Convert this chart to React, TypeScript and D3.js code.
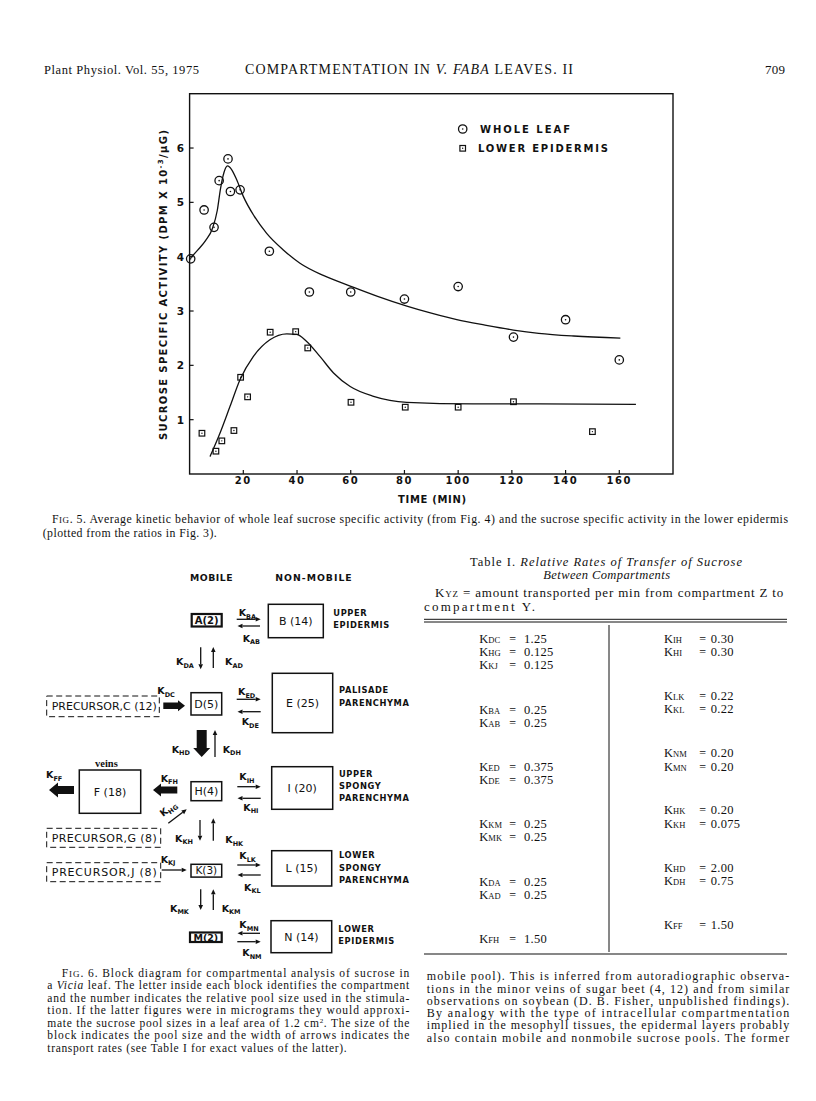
import React from "react";
import * as d3 from "d3";

// Fig. 5 — measured points
const wholeLeafTime = [0.4, 5.4, 9.1, 11.0, 14.3, 15.2, 18.8, 29.7, 44.6, 60, 80, 100, 120.6, 140, 160];
const wholeLeafActivity = [3.96, 4.86, 4.54, 5.4, 5.8, 5.2, 5.23, 4.1, 3.35, 3.35, 3.22, 3.45, 2.52, 2.84, 2.1];
const epidermisTime = [4.6, 9.8, 12.0, 16.5, 19.0, 21.6, 30, 39.5, 44, 60.1, 80.3, 100, 120.6, 150];
const epidermisActivity = [0.75, 0.42, 0.61, 0.8, 1.78, 1.42, 2.61, 2.62, 2.32, 1.32, 1.23, 1.23, 1.33, 0.78];

// fitted curves
const wholeFitTime = [0.4, 3, 6, 8.5, 10.3, 11.5, 12.8, 14.1, 15.7, 17.5, 20, 24, 28.7, 35, 41.1, 50, 59.8, 70, 80.9, 90, 99.5, 110, 120.6, 130, 143, 160.4];
const wholeFitActivity = [3.98, 4.12, 4.3, 4.52, 4.85, 5.25, 5.55, 5.67, 5.6, 5.42, 5.11, 4.75, 4.43, 4.12, 3.88, 3.65, 3.46, 3.27, 3.09, 2.96, 2.84, 2.74, 2.65, 2.59, 2.54, 2.5];
const epiFitTime = [7.6, 11.3, 15.1, 18.8, 23.7, 29.9, 36.2, 39.9, 43.6, 48.6, 53.6, 59.8, 68.5, 80.9, 105.7, 130.5, 166.2];
const epiFitActivity = [0.32, 0.75, 1.25, 1.74, 2.16, 2.47, 2.58, 2.57, 2.44, 2.16, 1.86, 1.61, 1.43, 1.32, 1.29, 1.29, 1.28];

const xTicks = [20, 40, 60, 80, 100, 120, 140, 160];
const yTicks = [1, 2, 3, 4, 5, 6];

// Table I
const leftRates = [
  [["DC", "1.25"], ["HG", "0.125"], ["KJ", "0.125"]],
  [["BA", "0.25"], ["AB", "0.25"]],
  [["ED", "0.375"], ["DE", "0.375"]],
  [["KM", "0.25"], ["MK", "0.25"]],
  [["DA", "0.25"], ["AD", "0.25"]],
  [["FH", "1.50"]],
];
const rightRates = [
  [["IH", "0.30"], ["HI", "0.30"]],
  [["LK", "0.22"], ["KL", "0.22"]],
  [["NM", "0.20"], ["MN", "0.20"]],
  [["HK", "0.20"], ["KH", "0.075"]],
  [["HD", "2.00"], ["DH", "0.75"]],
  [["FF", "1.50"]],
];

const x = d3.scaleLinear().domain([0, 180]).range([189.6, 673]);
const y = d3.scaleLinear().domain([0, 7]).range([474, 93.7]);

const line = d3
  .line<[number, number]>()
  .x((d) => x(d[0]))
  .y((d) => y(d[1]))
  .curve(d3.curveMonotoneX);

const SERIF = "'Liberation Serif', 'Times New Roman', serif";
const SANS = "'DejaVu Sans', sans-serif";

function Line({ x, y, len, size = 11, children, style }: any) {
  return (
    <text x={x} y={y} textLength={len} lengthAdjust="spacing" fontSize={size} fontFamily={SERIF} style={style}>
      {children}
    </text>
  );
}

function thin(x1: number, y1: number, x2: number, y2: number) {
  const L = Math.hypot(x2 - x1, y2 - y1);
  const ux = (x2 - x1) / L, uy = (y2 - y1) / L;
  const hl = 5, hw = 2.3;
  const bx = x2 - ux * hl, by = y2 - uy * hl;
  return (
    <g>
      <line x1={x1} y1={y1} x2={bx} y2={by} stroke="#111" strokeWidth={1.3} />
      <path d={`M${x2},${y2}L${bx - uy * hw},${by + ux * hw}L${bx + uy * hw},${by - ux * hw}Z`} fill="#111" />
    </g>
  );
}

function fat(x1: number, y1: number, x2: number, y2: number, w: number, hw: number, hl: number) {
  const L = Math.hypot(x2 - x1, y2 - y1);
  const ux = (x2 - x1) / L, uy = (y2 - y1) / L;
  const px = -uy, py = ux;
  const bx = x2 - ux * hl, by = y2 - uy * hl;
  const pts = [
    [x1 + (px * w) / 2, y1 + (py * w) / 2],
    [bx + (px * w) / 2, by + (py * w) / 2],
    [bx + (px * hw) / 2, by + (py * hw) / 2],
    [x2, y2],
    [bx - (px * hw) / 2, by - (py * hw) / 2],
    [bx - (px * w) / 2, by - (py * w) / 2],
    [x1 - (px * w) / 2, y1 - (py * w) / 2],
  ];
  return <path d={"M" + pts.map((p) => p.join(",")).join("L") + "Z"} fill="#111" />;
}

function K({ x, y, sub, rot }: any) {
  return (
    <text x={x} y={y} fontFamily={SANS} fontWeight="bold" fontSize={9.5} fill="#111"
      transform={rot ? `rotate(${rot},${x},${y})` : undefined}>
      K<tspan fontSize={6.5} dy={2.5}>{sub}</tspan>
    </text>
  );
}

function Box({ x, y, w, h, label, sw = 1.5, size = 11, bold = false }: any) {
  return (
    <g>
      <rect x={x} y={y} width={w} height={h} fill="none" stroke="#111" strokeWidth={sw} />
      <text x={x + w / 2} y={y + h / 2 + size * 0.36} textAnchor="middle" fontFamily={SANS}
        fontSize={size} fontWeight={bold ? "bold" : "normal"} fill="#111">{label}</text>
    </g>
  );
}

function Side({ x, y, lines }: any) {
  return (
    <g>
      {lines.map((t: string, i: number) => (
        <text key={i} x={x} y={y + i * 12.3} fontFamily={SANS} fontWeight="bold" fontSize={8.3} letterSpacing={0.6} fill="#111">{t}</text>
      ))}
    </g>
  );
}

function Precursor({ x, y, w, h, label }: any) {
  return (
    <g>
      <rect x={x} y={y} width={w} height={h} fill="none" stroke="#111" strokeWidth={1} strokeDasharray="6,3.5" />
      <text x={x + 5} y={y + h / 2 + 4} textLength={105} lengthAdjust="spacing" fontFamily={SANS} fontSize={11} fill="#111">{label}</text>
    </g>
  );
}

function Circle({ cx, cy }: any) {
  return (
    <g>
      <circle cx={cx} cy={cy} r={4.2} fill="none" stroke="#111" strokeWidth={1.3} />
      <circle cx={cx} cy={cy} r={0.8} fill="#111" />
    </g>
  );
}
function Square({ cx, cy }: any) {
  return (
    <g>
      <rect x={cx - 2.8} y={cy - 2.8} width={5.6} height={5.6} fill="none" stroke="#111" strokeWidth={1.2} />
      <circle cx={cx} cy={cy} r={0.7} fill="#111" />
    </g>
  );
}

function RateColumn({ groups, kx, eqx, vx, top, pitch, row, shift }: any) {
  const out: any[] = [];
  groups.forEach((g: string[][], gi: number) => {
    g.forEach(([sub, v], ri) => {
      const yy = top + gi * pitch + ri * row + (gi > 0 ? shift : 0);
      out.push(
        <g key={sub}>
          <text x={kx} y={yy} fontFamily={SERIF} fontSize={12.5}>
            K<tspan fontSize={8.5}>{sub}</tspan>
          </text>
          <text x={eqx} y={yy} fontFamily={SERIF} fontSize={12}>=</text>
          <text x={vx} y={yy} fontFamily={SERIF} fontSize={12.5} letterSpacing={0.3}>{v}</text>
        </g>
      );
    });
  });
  return <g>{out}</g>;
}

export default function App() {
  const whole = d3.zip(wholeLeafTime, wholeLeafActivity) as [number, number][];
  const epi = d3.zip(epidermisTime, epidermisActivity) as [number, number][];
  const wholeFit = d3.zip(wholeFitTime, wholeFitActivity) as [number, number][];
  const epiFit = d3.zip(epiFitTime, epiFitActivity) as [number, number][];

  return (
    <svg width={816} height={1101} viewBox="0 0 816 1101"
      style={{ position: "absolute", left: 0, top: 0, background: "#fff" }} fill="#111">
      {/* running head */}
      <Line x={44} y={74} len={155} size={12.5}>Plant Physiol. Vol. 55, 1975</Line>
      <Line x={245} y={74} len={328} size={14}>
        COMPARTMENTATION IN <tspan fontStyle="italic">V. FABA</tspan> LEAVES.  II
      </Line>
      <Line x={765} y={74} len={20} size={13}>709</Line>

      {/* Fig. 5 chart */}
      <rect x={x(0)} y={y(7)} width={x(180) - x(0)} height={y(0) - y(7)} fill="none" stroke="#111" strokeWidth={1.4} />
      {xTicks.map((t) => (
        <g key={t}>
          <line x1={x(t)} x2={x(t)} y1={y(0)} y2={y(0) - 4} stroke="#111" strokeWidth={1.2} />
          <text x={x(t)} y={484} textAnchor="middle" fontFamily={SANS} fontWeight="bold" fontSize={10} letterSpacing={1.5}>{t}</text>
        </g>
      ))}
      {yTicks.map((t) => (
        <g key={t}>
          <line x1={x(0)} x2={x(0) + 4} y1={y(t)} y2={y(t)} stroke="#111" strokeWidth={1.2} />
          <text x={184} y={y(t) + 4} textAnchor="end" fontFamily={SANS} fontWeight="bold" fontSize={10.5}>{t}</text>
        </g>
      ))}
      <text x={398} y={502.7} textLength={68} lengthAdjust="spacing" fontFamily={SANS} fontWeight="bold" fontSize={10}>TIME (MIN)</text>
      <text transform="translate(167,440) rotate(-90)" x={0} y={0} textLength={310} lengthAdjust="spacing"
        fontFamily={SANS} fontWeight="bold" fontSize={10}>
        SUCROSE  SPECIFIC  ACTIVITY  (DPM  X  10<tspan dy={-4} fontSize={7}>-3</tspan><tspan dy={4}>/µG)</tspan>
      </text>

      <path d={line(wholeFit) || ""} fill="none" stroke="#111" strokeWidth={1.3} />
      <path d={line(epiFit) || ""} fill="none" stroke="#111" strokeWidth={1.3} />
      {whole.map((d, i) => <Circle key={i} cx={x(d[0])} cy={y(d[1])} />)}
      {epi.map((d, i) => <Square key={i} cx={x(d[0])} cy={y(d[1])} />)}

      <Circle cx={462.7} cy={129} />
      <text x={480} y={133} textLength={90} lengthAdjust="spacing" fontFamily={SANS} fontWeight="bold" fontSize={10}>WHOLE  LEAF</text>
      <Square cx={462.7} cy={148.3} />
      <text x={478} y={152} textLength={130} lengthAdjust="spacing" fontFamily={SANS} fontWeight="bold" fontSize={10}>LOWER EPIDERMIS</text>

      {/* Fig. 5 caption */}
      <Line x={52} y={523.3} len={736} size={11.8}>
        F<tspan fontSize={9}>IG</tspan>. 5. Average kinetic behavior of whole leaf sucrose specific activity (from Fig. 4) and the sucrose specific activity in the lower epidermis
      </Line>
      <Line x={42.7} y={536.7} len={174} size={11.8}>(plotted from the ratios in Fig. 3).</Line>

      {/* Fig. 6 block diagram */}
      <text x={190} y={580.7} textLength={42.7} lengthAdjust="spacing" fontFamily={SANS} fontWeight="bold" fontSize={9.3}>MOBILE</text>
      <text x={275.3} y={580.7} textLength={76.4} lengthAdjust="spacing" fontFamily={SANS} fontWeight="bold" fontSize={9.3}>NON-MOBILE</text>

      <Box x={191.7} y={614} w={30} h={12.5} label="A(2)" sw={2.2} size={10} bold />
      <Box x={268.3} y={604.3} w={55} h={33.4} label="B (14)" />
      <Box x={191} y={692.7} w={30.7} h={22.3} label="D(5)" />
      <Box x={272.3} y={673.3} w={60.4} h={59.4} label="E (25)" />
      <Box x={79.3} y={770} w={61.4} h={43.3} label="F (18)" />
      <Box x={191} y={781.7} w={30.7} h={19} label="H(4)" />
      <Box x={271.7} y={766.7} w={61} h={42.6} label="I (20)" />
      <Box x={191} y={864.3} w={30.7} h={12.8} label="K(3)" size={10.5} />
      <Box x={271.7} y={850.7} w={60} h={35.3} label="L (15)" />
      <Box x={190} y={932.5} w={31.7} h={9.5} label="M(2)" sw={2.2} size={9.5} bold />
      <Box x={271} y={920.7} w={60.7} h={32} label="N (14)" />

      <Side x={333.3} y={615.7} lines={["UPPER", "EPIDERMIS"]} />
      <Side x={339} y={693.3} lines={["PALISADE", "PARENCHYMA"]} />
      <Side x={339} y={776.7} lines={["UPPER", "SPONGY", "PARENCHYMA"]} />
      <Side x={339} y={858.3} lines={["LOWER", "SPONGY", "PARENCHYMA"]} />
      <Side x={338.3} y={931.7} lines={["LOWER", "EPIDERMIS"]} />

      <Precursor x={46.7} y={696} w={112.6} h={20.7} label="PRECURSOR,C (12)" />
      <Precursor x={46.7} y={828.3} w={114} h={19} label="PRECURSOR,G (8)" />
      <Precursor x={46.7} y={862.7} w={114} h={19} label="PRECURSOR,J  (8)" />

      <text x={95} y={766.7} fontFamily={SERIF} fontWeight="bold" fontSize={10.5}>veins</text>

      {fat(163.3, 705.7, 185, 705.7, 6.5, 11, 7)}
      {fat(201.7, 730, 201.7, 757, 10, 17, 9)}
      {fat(74, 790, 49, 790, 8, 15, 9)}
      {fat(177.3, 790, 153, 790, 7, 13, 8)}

      {thin(236.7, 619.3, 260.7, 619.3)}
      {thin(260, 626, 237.5, 626)}
      {thin(200.7, 647.3, 200.7, 669.3)}
      {thin(213.3, 668, 213.3, 647)}
      {thin(236.7, 699.3, 260.7, 699.3)}
      {thin(260.7, 711.7, 237.5, 711.7)}
      {thin(215, 757, 215, 730)}
      {thin(237.3, 786.7, 260.7, 786.7)}
      {thin(260.7, 798.3, 237.5, 798.3)}
      {thin(168.3, 823.3, 186.7, 809.3)}
      {thin(200, 820, 200, 840.7)}
      {thin(213.3, 840.7, 213.3, 818.3)}
      {thin(161.7, 870, 186.7, 870)}
      {thin(237.3, 865, 260.7, 865)}
      {thin(260.7, 875, 237.5, 875)}
      {thin(200.7, 889.3, 200.7, 910)}
      {thin(213.3, 910, 213.3, 889.3)}
      {thin(260, 933.3, 237.5, 933.3)}
      {thin(237.3, 941.7, 260.7, 941.7)}

      <K x={238.7} y={616} sub="BA" />
      <K x={242.7} y={641.7} sub="AB" />
      <K x={176} y={665} sub="DA" />
      <K x={225} y={665} sub="AD" />
      <K x={157.3} y={694.3} sub="DC" />
      <K x={238} y={695} sub="ED" />
      <K x={241.7} y={725} sub="DE" />
      <K x={171.7} y={752.7} sub="HD" />
      <K x={222.7} y={752.7} sub="DH" />
      <K x={46} y={778.3} sub="FF" />
      <K x={160.7} y={781.7} sub="FH" />
      <K x={239.3} y={780} sub="IH" />
      <K x={243.3} y={810.7} sub="HI" />
      <K x={163} y={817} sub="HG" rot={-38} />
      <K x={175} y={841.7} sub="KH" />
      <K x={225.3} y={843.3} sub="HK" />
      <K x={160.7} y={862.7} sub="KJ" />
      <K x={239.3} y={859.3} sub="LK" />
      <K x={244} y={890.7} sub="KL" />
      <K x={170} y={911.7} sub="MK" />
      <K x={221.7} y={911.7} sub="KM" />
      <K x={239.3} y={928.3} sub="MN" />
      <K x={242.3} y={956} sub="NM" />

      {/* Fig. 6 caption */}
      <Line x={61.7} y={976.7} len={347.6} size={11.5}>F<tspan fontSize={9}>IG</tspan>. 6. Block diagram for compartmental analysis of sucrose in</Line>
      <Line x={47.3} y={989.3} len={362} size={11.5}>a <tspan fontStyle="italic">Vicia</tspan> leaf. The letter inside each block identifies the compartment</Line>
      <Line x={47.3} y={1001.7} len={362} size={11.5}>and the number indicates the relative pool size used in the stimula-</Line>
      <Line x={47.3} y={1014.3} len={362} size={11.5}>tion. If the latter figures were in micrograms they would approxi-</Line>
      <Line x={47.3} y={1026.7} len={362} size={11.5}>mate the sucrose pool sizes in a leaf area of 1.2 cm<tspan fontSize={7} dy={-4}>2</tspan><tspan dy={4}>. The size of the</tspan></Line>
      <Line x={47.3} y={1039.3} len={362} size={11.5}>block indicates the pool size and the width of arrows indicates the</Line>
      <Line x={47.3} y={1051.7} len={299.4} size={11.5}>transport rates (see Table I for exact values of the latter).</Line>

      {/* Table I */}
      <Line x={470} y={566} len={272} size={12.5}>Table I. <tspan fontStyle="italic">Relative Rates of Transfer of Sucrose</tspan></Line>
      <Line x={543.3} y={579.3} len={126.7} size={12.5} style={{ fontStyle: "italic" }}>Between Compartments</Line>
      <Line x={435} y={597.3} len={348.3} size={13}>K<tspan fontSize={9}>YZ</tspan> = amount transported per min from compartment Z to</Line>
      <Line x={424} y={610.7} len={111} size={13}>compartment Y.</Line>
      <line x1={424} x2={787} y1={619.3} y2={619.3} stroke="#111" strokeWidth={1} />
      <line x1={424} x2={787} y1={622} y2={622} stroke="#111" strokeWidth={1} />
      <line x1={609} x2={609} y1={625} y2={952} stroke="#111" strokeWidth={1} />
      <line x1={424} x2={787} y1={954} y2={954} stroke="#111" strokeWidth={1.2} />
      <RateColumn groups={leftRates} kx={479.3} eqx={509.3} vx={524} top={642.7} pitch={57.2} row={13} shift={14} />
      <RateColumn groups={rightRates} kx={664} eqx={699.3} vx={710.7} top={642.7} pitch={57.2} row={13.5} shift={0} />

      {/* body text */}
      <Line x={426.7} y={980} len={362.6} size={12}>mobile pool). This is inferred from autoradiographic observa-</Line>
      <Line x={426.7} y={992.7} len={362.6} size={12}>tions in the minor veins of sugar beet (4, 12) and from similar</Line>
      <Line x={426.7} y={1004.6} len={362.6} size={12}>observations on soybean (D. B. Fisher, unpublished findings).</Line>
      <Line x={426.7} y={1017} len={362.6} size={12}>By analogy with the type of intracellular compartmentation</Line>
      <Line x={426.7} y={1029.4} len={362.6} size={12}>implied in the mesophyll tissues, the epidermal layers probably</Line>
      <Line x={426.7} y={1041.8} len={362.6} size={12}>also contain mobile and nonmobile sucrose pools. The former</Line>
    </svg>
  );
}
